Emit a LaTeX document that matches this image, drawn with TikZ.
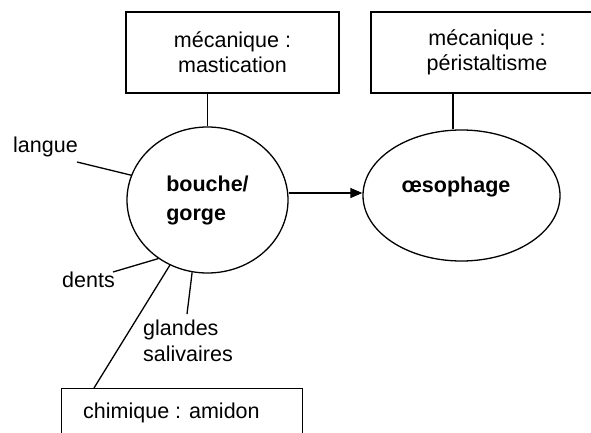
\documentclass[tikz,border=0pt]{standalone}
\usepackage{fontspec}
\setmainfont{Liberation Sans}
\usetikzlibrary{shapes.geometric,arrows.meta}
\begin{document}
\begin{tikzpicture}[x=1pt,y=-1pt,
  every node/.style={font=\fontsize{21.5}{25}\selectfont, inner sep=0pt},
  boxnode/.style={draw, line width=1.3pt, rectangle, align=center},
  ovalnode/.style={draw, line width=1.3pt, ellipse},
  lbl/.style={anchor=base west, align=left},
  conn/.style={line width=1.3pt},
  arr/.style={line width=1.3pt, -{Triangle[length=12pt,width=10pt]}}]
\useasboundingbox (0,0) rectangle (591,433);
\clip (0,0) rectangle (591,433);
% boxes
\node[boxnode, minimum width=213pt, minimum height=81pt] (mast) at (232.5,52.5) {mécanique :\\mastication};
\node[boxnode, minimum width=232pt, minimum height=81pt] (peri) at (487,52.5) {mécanique :\\péristaltisme};
\node[boxnode, minimum width=241pt, minimum height=60pt, anchor=north west] (chem) at (61,388) {};
\node[lbl] (chemtxt) at (83,418) {chimique : amidon};
% ellipses
\node[ovalnode, minimum width=161pt, minimum height=146pt, align=left, font=\fontsize{21.5}{29}\selectfont\bfseries] (bouche) at (207.5,200) {bouche/\\gorge};
\node[ovalnode, minimum width=197pt, minimum height=131pt,
  label={[font=\fontsize{21.5}{25}\selectfont\bfseries, xshift=-5.5pt, yshift=8.5pt]center:œsophage}] (oes) at (461.5,195.5) {};
% labels
\node[lbl] (langue) at (13,152) {langue};
\node[lbl] (dents) at (62,287) {dents};
\node[lbl, font=\fontsize{21.5}{26}\selectfont] (glandes) at (143,361) {glandes\\salivaires};
% free ends
\coordinate (langueend) at (77,162);
\coordinate (dentsend) at (113,272);
\coordinate (glandesend) at (187,314);
% connectors
\draw[conn] (bouche.north |- mast.south) -- (bouche.north);
\draw[conn] ([xshift=-8.5pt]oes.north |- peri.south) -- ([xshift=-8.5pt]oes.north);
\draw[arr] ([yshift=7pt]bouche.east) -- ([yshift=2.5pt]oes.west);
\draw[conn] (langueend) -- (bouche.162);
\draw[conn] (dentsend) -- (bouche.230);
\draw[conn] ([xshift=33pt]chem.north west) -- (bouche.240);
\draw[conn] (glandesend) -- (bouche.258);
\end{tikzpicture}
\end{document}
